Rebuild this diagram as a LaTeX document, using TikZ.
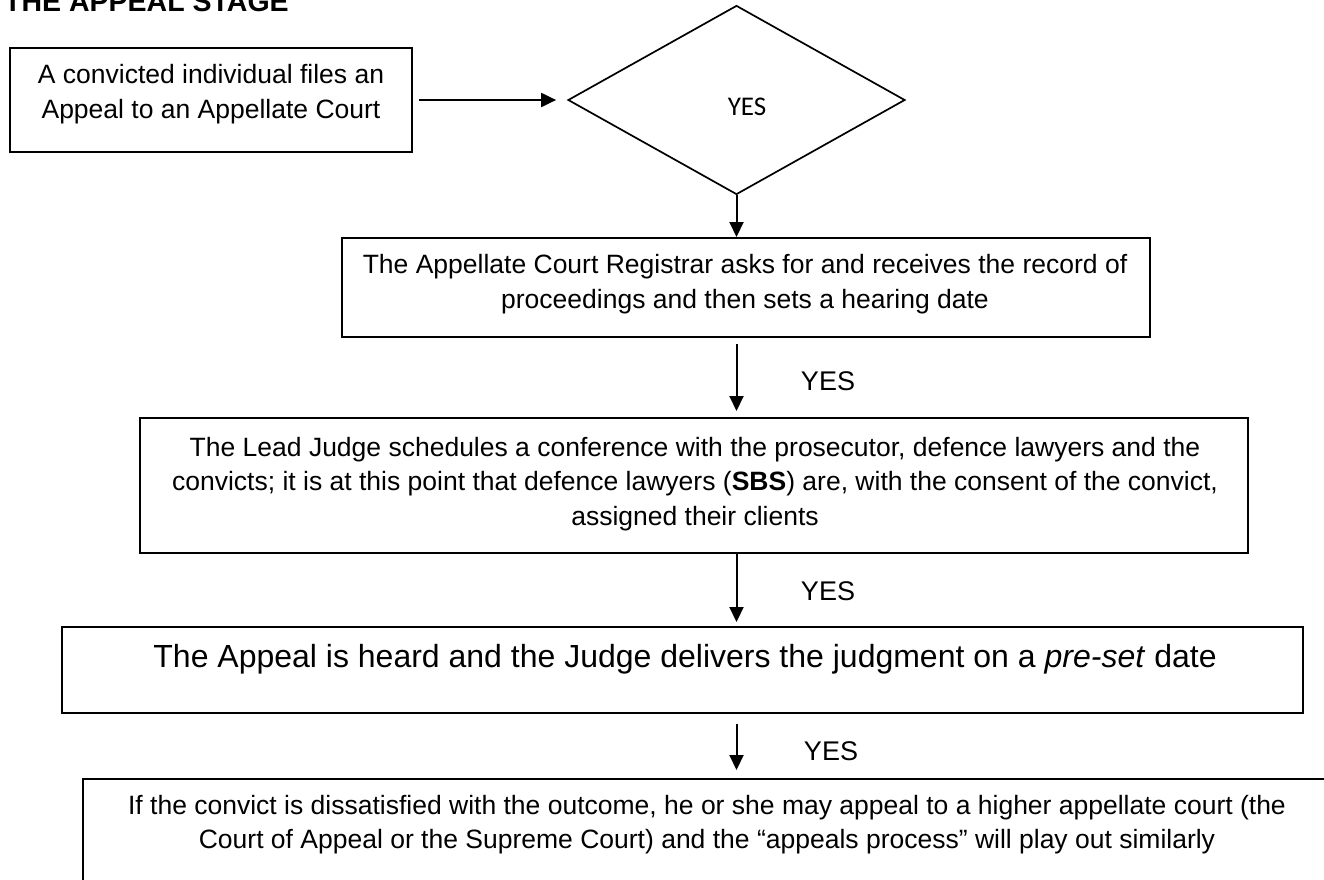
\documentclass[tikz,border=0pt]{standalone}
\usepackage{fontspec}
\setmainfont{Liberation Sans}
\newfontfamily\carl{Carlito}
\usetikzlibrary{shapes.geometric,arrows.meta}
\begin{document}
\begin{tikzpicture}[x=1pt,y=-1pt,
  box/.style={draw, line width=2pt, rectangle, inner sep=0pt},
  txt/.style={anchor=base, align=center, inner sep=0pt, font=\fontsize{26.5}{35}\selectfont},
  yeslbl/.style={anchor=base, inner sep=0pt, font=\fontsize{27}{32}\selectfont},
  arr/.style={line width=2pt, -{Triangle[length=15pt,width=14pt]}}]
\useasboundingbox (0,0) rectangle (1324,879);
\node[anchor=base west, inner sep=0pt, font=\bfseries\fontsize{28.5}{34}\selectfont] (title) at (4,11) {THE APPEAL STAGE};
% boxes
\node[box, minimum width=402pt, minimum height=104pt] (box1) at (211,100) {};
\node[draw, diamond, line width=1.7pt, minimum width=337pt, minimum height=189pt, inner sep=0pt] (dia) at (736.5,100) {};
\node[box, minimum width=808pt, minimum height=99pt] (box2) at (746,287.5) {};
\node[box, minimum width=1108pt, minimum height=135pt] (box3) at (694,485.5) {};
\node[box, minimum width=1241pt, minimum height=86pt] (box4) at (682.5,670) {};
\node[box, minimum width=1248pt, minimum height=141pt] (box5) at (707,849.5) {};
% texts (base anchor = baseline of the last line)
\node[txt] (t1) at (211,118) {A convicted individual files an\\Appeal to an Appellate Court};
\node[anchor=base, inner sep=0pt, font=\carl\fontsize{27}{32}\selectfont] (dyes) at (747,115) {YES};
\node[txt] (t2) at (745,308) {The Appellate Court Registrar asks for and receives the record of\\proceedings and then sets a hearing date};
\node[txt, font=\fontsize{26.5}{34.5}\selectfont] (t3) at (695,525) {The Lead Judge schedules a conference with the prosecutor, defence lawyers and the\\convicts; it is at this point that defence lawyers (\textbf{SBS}) are, with the consent of the convict,\\assigned their clients};
\node[txt, font=\fontsize{32}{38}\selectfont] (t4) at (685,667) {The Appeal is heard and the Judge delivers the judgment on a \textit{pre-set} date};
\node[txt, font=\fontsize{26.5}{34}\selectfont] (t5) at (707,848) {If the convict is dissatisfied with the outcome, he or she may appeal to a higher appellate court (the\\Court of Appeal or the Supreme Court) and the “appeals process” will play out similarly};
% yes labels
\node[yeslbl] (y3) at (828,390) {YES};
\node[yeslbl] (y4) at (828,600) {YES};
\node[yeslbl] (y5) at (831,760) {YES};
% connectors
\draw[arr, shorten <=6pt, shorten >=11pt] (box1.east) -- (dia.west);
\draw[arr] (dia.south) -- (dia.south |- box2.north);
\draw[arr, shorten <=6pt, shorten >=6pt] (box2.south -| dia.south) -- (box3.north -| dia.south);
\draw[arr, shorten >=4pt] (box3.south -| dia.south) -- (box4.north -| dia.south);
\draw[arr, shorten <=10pt, shorten >=8pt] (box4.south -| dia.south) -- (box5.north -| dia.south);
\end{tikzpicture}
\end{document}
